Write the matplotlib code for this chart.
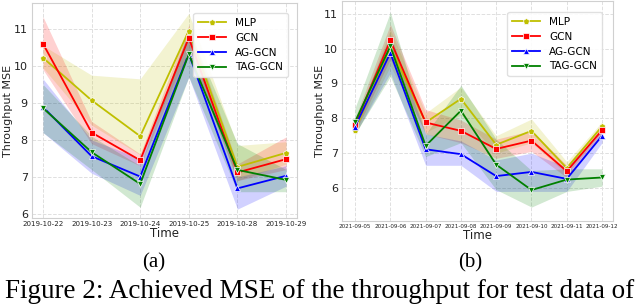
import matplotlib
matplotlib.use("Agg")
import matplotlib.pyplot as plt
import numpy as np

# ---------- data ----------
series = ["MLP", "GCN", "AG-GCN", "TAG-GCN"]
colors = ["#bfbf00", "red", "blue", "green"]
markers = ["p", "s", "^", "v"]

dates_a = ["2019-10-22", "2019-10-23", "2019-10-24", "2019-10-25", "2019-10-28", "2019-10-29"]
mlp_a = [10.22, 9.07, 8.10, 10.95, 7.27, 7.65]
gcn_a = [10.60, 8.20, 7.45, 10.76, 7.12, 7.48]
ag_a = [8.89, 7.56, 7.01, 10.33, 6.69, 7.03]
tag_a = [8.86, 7.67, 6.81, 10.32, 7.19, 6.92]

mlp_a_lo = [9.95, 8.40, 7.60, 10.40, 6.90, 7.35]
mlp_a_hi = [10.55, 9.75, 9.65, 11.42, 7.85, 7.95]
gcn_a_lo = [9.90, 7.90, 7.30, 10.40, 6.90, 7.20]
gcn_a_hi = [11.33, 8.50, 7.62, 11.10, 7.35, 8.08]
ag_a_lo = [8.20, 7.10, 6.50, 9.70, 6.13, 6.75]
ag_a_hi = [9.65, 8.00, 7.50, 10.90, 7.00, 7.30]
tag_a_lo = [8.20, 7.20, 6.18, 9.70, 6.60, 6.60]
tag_a_hi = [9.50, 8.10, 7.30, 11.00, 7.90, 7.20]

dates_b = ["2021-09-05", "2021-09-06", "2021-09-07", "2021-09-08",
           "2021-09-09", "2021-09-10", "2021-09-11", "2021-09-12"]
mlp_b = [7.65, 10.05, 7.88, 8.56, 7.24, 7.64, 6.57, 7.77]
gcn_b = [7.82, 10.24, 7.88, 7.64, 7.12, 7.36, 6.48, 7.66]
ag_b = [7.76, 9.88, 7.11, 6.97, 6.34, 6.46, 6.26, 7.50]
tag_b = [7.90, 10.07, 7.21, 8.22, 6.67, 5.94, 6.24, 6.30]

mlp_b_lo = [7.50, 9.50, 7.60, 8.10, 7.00, 7.30, 6.40, 7.60]
mlp_b_hi = [7.85, 10.55, 8.15, 8.90, 7.50, 7.98, 6.75, 7.90]
gcn_b_lo = [7.60, 9.70, 7.55, 7.30, 6.85, 7.05, 6.30, 7.50]
gcn_b_hi = [8.00, 10.70, 8.25, 7.95, 7.40, 7.65, 6.65, 7.80]
ag_b_lo = [7.55, 9.30, 6.65, 6.65, 5.90, 5.90, 5.90, 7.30]
ag_b_hi = [7.95, 10.40, 7.55, 7.35, 6.80, 7.00, 6.60, 7.65]
tag_b_lo = [7.55, 9.20, 6.90, 7.30, 5.95, 5.45, 5.90, 6.05]
tag_b_hi = [8.30, 11.05, 7.55, 8.95, 7.40, 6.50, 6.55, 6.55]

panel_a = [(mlp_a, mlp_a_lo, mlp_a_hi), (gcn_a, gcn_a_lo, gcn_a_hi),
           (ag_a, ag_a_lo, ag_a_hi), (tag_a, tag_a_lo, tag_a_hi)]
panel_b = [(mlp_b, mlp_b_lo, mlp_b_hi), (gcn_b, gcn_b_lo, gcn_b_hi),
           (ag_b, ag_b_lo, ag_b_hi), (tag_b, tag_b_lo, tag_b_hi)]

# ---------- figure ----------
W, H = 640, 305
fig = plt.figure(figsize=(6.4, 3.05), dpi=100)


def px_axes(x0, y0, x1, y1):
    return fig.add_axes([x0 / W, 1 - y1 / H, (x1 - x0) / W, (y1 - y0) / H])


ax1 = px_axes(32, 3, 297, 218)
ax2 = px_axes(342, 1, 613, 221)


def draw(ax, dates, panel, xfs, ylim, xlim, legend_anchor):
    x = np.arange(len(dates))
    for name, col, mk, (m, lo, hi) in zip(series, colors, markers, panel):
        ax.fill_between(x, lo, hi, color=col, alpha=0.18, linewidth=0)
        ax.plot(x, m, color=col, marker=mk, markersize=4.5, markeredgecolor="white",
                markeredgewidth=0.5, linewidth=1.3, label=name)
    ax.set_xticks(x)
    ax.set_xticklabels(dates, fontsize=xfs)
    ax.set_yticks([6, 7, 8, 9, 10, 11])
    ax.tick_params(axis="y", labelsize=8, length=0, pad=3, labelcolor="#222222")
    ax.tick_params(axis="x", length=0, pad=2, labelcolor="#222222")
    ax.set_ylim(*ylim)
    ax.set_xlim(*xlim)
    ax.grid(True, color="#e0e0e0", linestyle="--", linewidth=0.7)
    ax.set_axisbelow(True)
    for s in ax.spines.values():
        s.set_color("#d0d0d0")
        s.set_linewidth(0.8)
    ax.set_xlabel("Time", fontsize=8.5, labelpad=0, color="#222222")
    ax.legend(loc="upper right", bbox_to_anchor=legend_anchor, fontsize=7.6,
              framealpha=0.9, edgecolor="#dddddd", handlelength=2.6,
              borderpad=0.45, labelspacing=0.45, handletextpad=0.9)


draw(ax1, dates_a, panel_a, 5.1, (5.89, 11.70), (-0.226, 5.226),
     (1 - 4 / 265, 1 - 5 / 215))
draw(ax2, dates_b, panel_b, 4.1, (5.05, 11.37), (-0.37, 7.31),
     (1 - 6 / 271, 1 - 6 / 220))
ax1.set_ylabel("Throughput MSE", fontsize=8, color="#222222")
ax2.set_ylabel("Throughput MSE", fontsize=8, color="#222222")
ax1.yaxis.set_label_coords((13 - 32) / 265, 0.5)
ax2.yaxis.set_label_coords((325 - 342) / 271, 0.5)

fig.text(154 / W, 1 - 263 / H, "(a)", family="Liberation Serif", fontsize=15,
         ha="center", va="center")
fig.text(470 / W, 1 - 263 / H, "(b)", family="Liberation Serif", fontsize=15,
         ha="center", va="center")
fig.text(0.5, 1 - 291 / H, "Figure 2: Achieved MSE of the throughput for test data of",
         family="Liberation Serif", fontsize=19.5, ha="center", va="center")

fig.savefig("out.png", dpi=100)
